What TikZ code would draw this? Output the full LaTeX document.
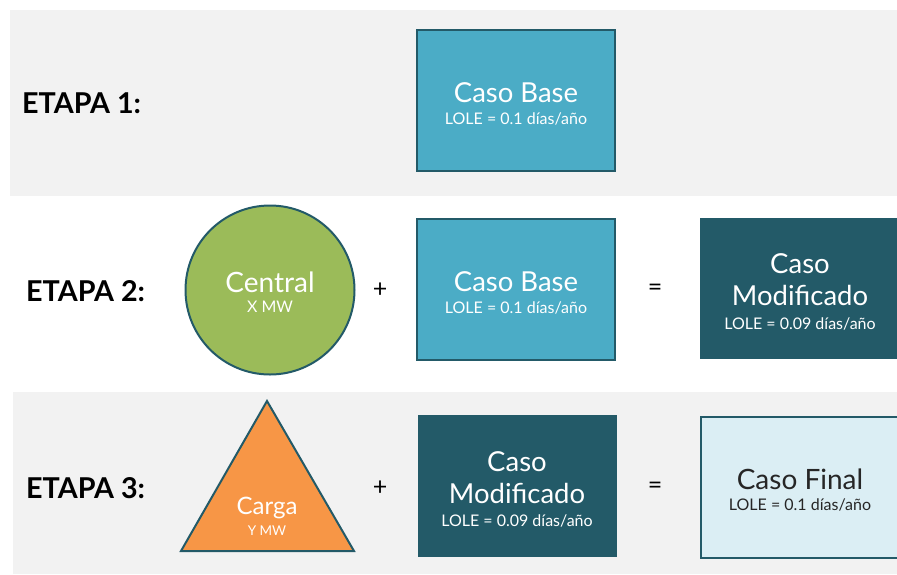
\documentclass[tikz,border=0pt]{standalone}
\usepackage{fontspec}
\setmainfont{Lato}
\definecolor{bandgray}{HTML}{F2F2F2}
\definecolor{basefill}{HTML}{4BACC6}
\definecolor{darkteal}{HTML}{235A68}
\definecolor{greenfill}{HTML}{9BBB59}
\definecolor{orangefill}{HTML}{F79646}
\definecolor{finalfill}{HTML}{DBEEF4}
\definecolor{darktext}{HTML}{262626}
\tikzset{
  box/.style={rectangle, minimum width=198pt, minimum height=141pt, inner sep=0pt},
  basebox/.style={box, fill=basefill, draw=darkteal, line width=2pt},
  modbox/.style={box, fill=darkteal},
  finalbox/.style={box, fill=finalfill, draw=darkteal, line width=2pt},
  title/.style={anchor=base, inner sep=0pt, text=white, font=\fontsize{27.5}{30}\selectfont},
  sub/.style={anchor=base, inner sep=0pt, text=white, font=\fontsize{16}{18}\selectfont},
  stage/.style={anchor=base west, inner sep=0pt, font=\bfseries\fontsize{28.7}{31}\selectfont},
  op/.style={inner sep=0pt, font=\fontsize{25}{27}\selectfont},
}
\begin{document}
\begin{tikzpicture}[x=1pt,y=-1pt]
\useasboundingbox (0,0) rectangle (897,574);
% bands
\fill[bandgray] (10,10) rectangle (897,196);
\fill[bandgray] (13,392) rectangle (897,574);

% ETAPA 1
\node[stage] (s1) at (22,113.3) {ETAPA 1:};
\node[basebox] (b1) at (516,100.5) {};
\node[title] (b1t) at (516,102.3) {Caso Base};
\node[sub] (b1s) at (516,124) {LOLE = 0.1 días/año};

% ETAPA 2
\node[stage] (s2) at (26,301.5) {ETAPA 2:};
\node[circle, minimum size=169pt, inner sep=0pt, fill=greenfill, draw=darkteal, line width=2pt] (c2) at (270,290) {};
\node[title, font=\fontsize{28}{30}\selectfont] (c2t) at (270,292.3) {Central};
\node[sub] (c2s) at (270,312.7) {X MW};
\node[op] (p2) at (380,290) {+};
\node[basebox] (b2) at (516,289) {};
\node[title] (b2t) at (516,291) {Caso Base};
\node[sub] (b2s) at (516,313) {LOLE = 0.1 días/año};
\node[op] (e2) at (655,290) {=};
\node[modbox, minimum width=202pt] (m2) at (801,288.5) {};
\node[title] (m2a) at (800,273.3) {Caso};
\node[title] (m2b) at (800,305.7) {Modificado};
\node[sub] (m2c) at (800,329) {LOLE = 0.09 días/año};

% ETAPA 3
\node[stage] (s3) at (26,498.5) {ETAPA 3:};
\coordinate (ta) at (267,401);
\coordinate (tl) at (181,551);
\coordinate (tr) at (354,551);
\draw[fill=orangefill, draw=darkteal, line width=2pt, line join=miter] (ta) -- (tl) -- (tr) -- cycle;
\node[title, font=\fontsize{24}{26}\selectfont] (t3t) at (267,514) {Carga};
\node[sub, font=\fontsize{13.5}{15}\selectfont] (t3s) at (267,535) {Y MW};
\node[op] (p3) at (380,488) {+};
\node[modbox, minimum width=199pt, minimum height=142pt] (m3) at (517.5,486) {};
\node[title] (m3a) at (517,471) {Caso};
\node[title] (m3b) at (517,503) {Modificado};
\node[sub] (m3c) at (517,526) {LOLE = 0.09 días/año};
\node[op] (e3) at (655,488) {=};
\node[finalbox, minimum width=202pt] (f3) at (802,487.5) {};
\node[title, text=darktext, font=\fontsize{28}{30}\selectfont] (f3t) at (800,489.3) {Caso Final};
\node[sub, text=darktext] (f3s) at (800,510) {LOLE = 0.1 días/año};
\end{tikzpicture}
\end{document}
